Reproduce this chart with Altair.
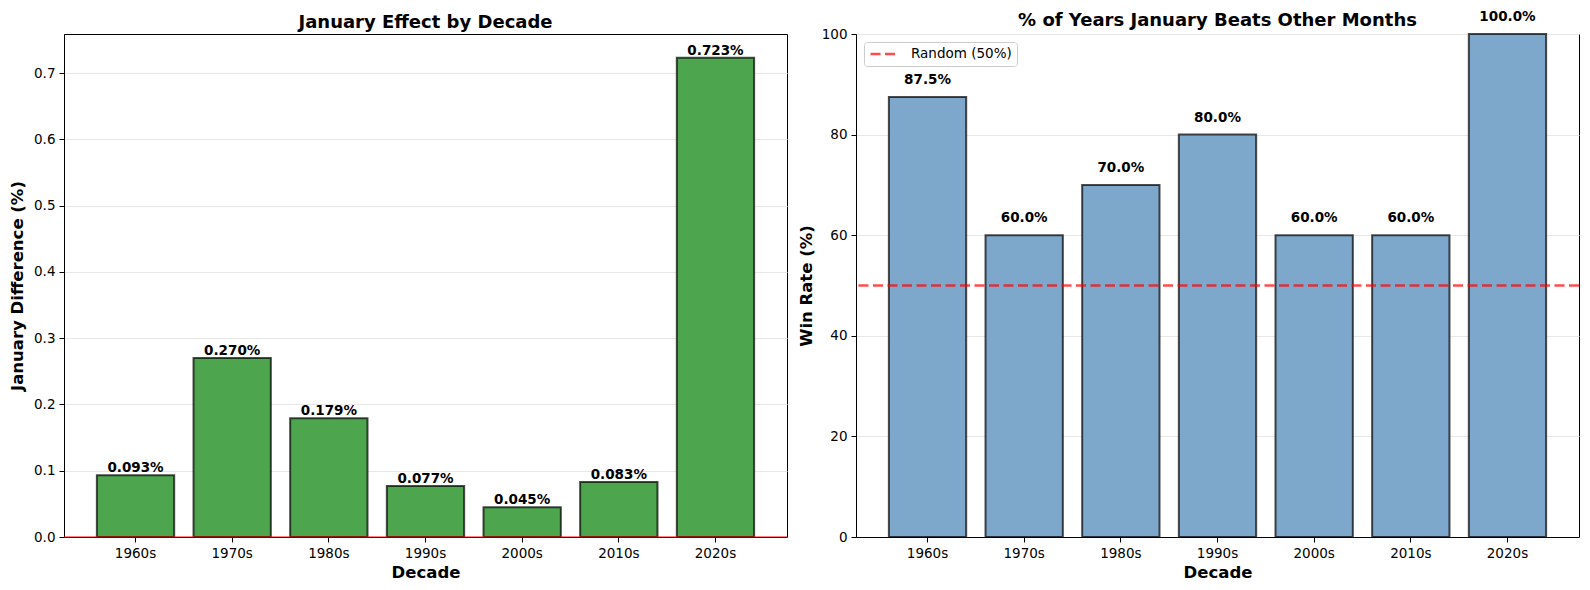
import altair as alt
import pandas as pd

decades = ["1960s", "1970s", "1980s", "1990s", "2000s", "2010s", "2020s"]
jan_diff = [0.093, 0.270, 0.179, 0.077, 0.045, 0.083, 0.723]
win_rate = [87.5, 60.0, 70.0, 80.0, 60.0, 60.0, 100.0]

df = pd.DataFrame({"decade": decades, "diff": jan_diff, "win": win_rate})
df["diff_label"] = [f"{v:.3f}%" for v in jan_diff]
df["win_label"] = [f"{v:.1f}%" for v in win_rate]
df["win_pos"] = [v + 2 for v in win_rate]

FONT = "DejaVu Sans"
W, H = 723, 503
TICK_FS = 13.5
AX_TITLE_FS = 16.5
TITLE_FS = 18

common_axis = dict(labelFontSize=TICK_FS, titleFontSize=AX_TITLE_FS, titleFontWeight="bold",
                   domainColor="black", tickColor="black", labelColor="black",
                   titleColor="black", tickSize=5, labelPadding=4)

xenc = alt.X("decade:N", sort=decades,
             scale=alt.Scale(paddingInner=0.2, paddingOuter=0.34),
             axis=alt.Axis(title="Decade", labelAngle=0, titlePadding=5, **common_axis))

# Left panel
bars_l = alt.Chart(df).mark_bar(color="#4da64d", stroke="#000000", strokeWidth=2,
                                 strokeOpacity=0.7).encode(
    x=xenc,
    y=alt.Y("diff:Q", scale=alt.Scale(domain=[0, 0.759], nice=False, zero=True),
            axis=alt.Axis(title="January Difference (%)", format=".1f",
                          values=[0, 0.1, 0.2, 0.3, 0.4, 0.5, 0.6, 0.7],
                          grid=True, gridColor="#e8e8e8", gridOpacity=1,
                          titleX=-47, titleBaseline="middle", titleAlign="center",
                          **common_axis)),
)
text_l = alt.Chart(df).mark_text(fontWeight="bold", fontSize=TICK_FS, baseline="bottom",
                                  font=FONT, color="black").encode(
    x=alt.X("decade:N", sort=decades),
    y="diff:Q",
    text="diff_label:N",
)
zero_l = alt.Chart(pd.DataFrame({"z": [0]})).mark_rule(color="red", strokeWidth=1).encode(
    y="z:Q")
left = alt.layer(bars_l, zero_l, text_l).properties(
    width=W, height=H,
    title=alt.TitleParams("January Effect by Decade", fontSize=TITLE_FS, fontWeight="bold",
                          font=FONT, offset=2.5, color="black"))

# Right panel
bars_r = alt.Chart(df).mark_bar(color="#7ea8cb", stroke="#000000", strokeWidth=2,
                                 strokeOpacity=0.7).encode(
    x=xenc,
    y=alt.Y("win:Q", scale=alt.Scale(domain=[0, 100], nice=False),
            axis=alt.Axis(title="Win Rate (%)", values=[0, 20, 40, 60, 80, 100],
                          grid=True, gridColor="#e8e8e8", gridOpacity=1,
                          titleX=-50, titleBaseline="middle", titleAlign="center",
                          **common_axis)),
)
text_r = alt.Chart(df).mark_text(fontWeight="bold", fontSize=TICK_FS, baseline="bottom",
                                  font=FONT, color="black", clip=False).encode(
    x=alt.X("decade:N", sort=decades),
    y="win_pos:Q",
    text="win_label:N",
)
rule_r = alt.Chart(pd.DataFrame({"v": [50], "lab": ["Random (50%)"]})).mark_rule(
    strokeDash=[10, 4.5], strokeWidth=2.5, opacity=0.7).encode(
    y="v:Q",
    color=alt.Color("lab:N", scale=alt.Scale(domain=["Random (50%)"], range=["red"]),
                    legend=alt.Legend(title=None, orient="top-left", offset=7.5,
                                      symbolType="stroke", symbolDash=[10, 4.5],
                                      symbolStrokeWidth=2.5, symbolSize=676,
                                      clipHeight=14,
                                      labelOffset=13, labelFontSize=TICK_FS,
                                      labelFont=FONT, labelColor="black",
                                      fillColor="rgba(255,255,255,0.8)",
                                      strokeColor="#cccccc",
                                      padding=5, cornerRadius=3, symbolOpacity=0.7)),
)
right = alt.layer(bars_r, rule_r, text_r).properties(
    width=W, height=H,
    title=alt.TitleParams("% of Years January Beats Other Months", fontSize=TITLE_FS,
                          fontWeight="bold", font=FONT, offset=2.5, color="black", dy=23))

chart = alt.hconcat(left, right, spacing=9).resolve_legend(
    color="independent"
).resolve_scale(color="independent").properties(
    padding={"left": 0, "top": 1, "right": 0, "bottom": 0}
).configure(
    font=FONT
).configure_view(stroke="black", strokeWidth=1).configure_axis(
    labelFont=FONT, titleFont=FONT
)

chart.save("out.html", embed_options={"renderer": "svg", "actions": False})
